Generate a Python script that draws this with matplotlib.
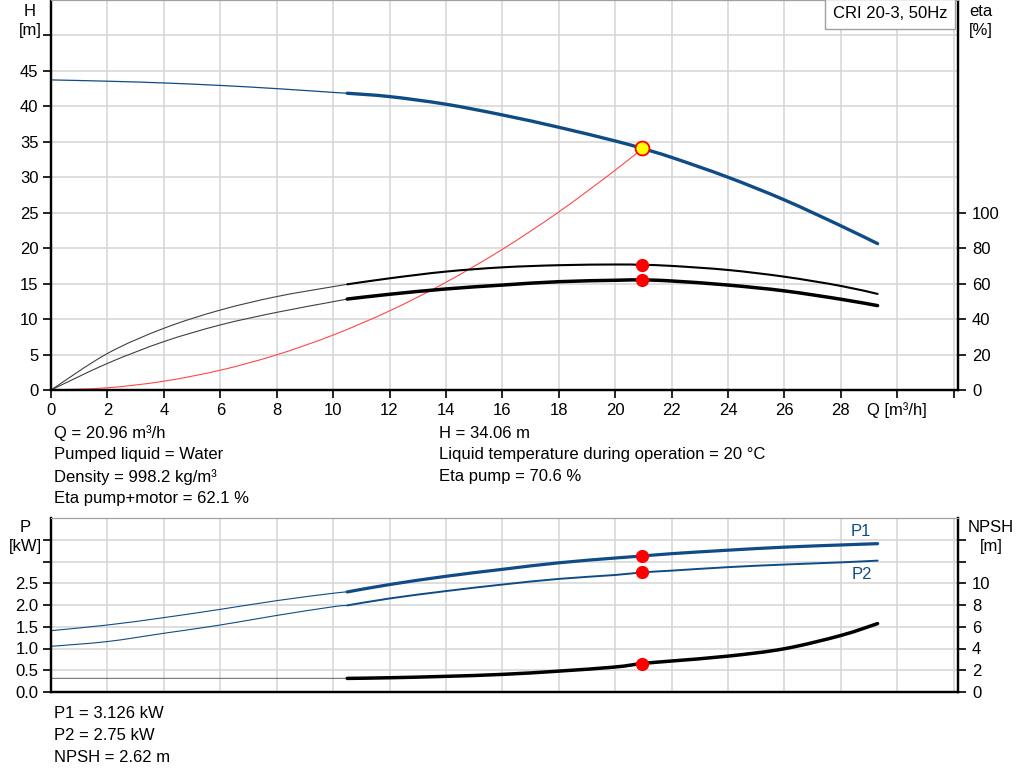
import numpy as np
import matplotlib
matplotlib.use("Agg")
import matplotlib.pyplot as plt
from matplotlib.path import Path
from matplotlib.patches import PathPatch

plt.rcParams['font.family'] = ['Liberation Sans', 'DejaVu Sans']
plt.rcParams['font.size'] = 12

# ---- data ----
# pump head H [m]
q_h_thin = [0, 2, 4, 6, 8, 10, 10.5]
h_thin = [43.73, 43.55, 43.3, 42.95, 42.5, 41.97, 41.85]
q_h = [10.5, 12, 14, 16, 18, 20, 20.96, 22, 24, 26, 28, 29.3]
h = [41.85, 41.38, 40.3, 38.79, 37.05, 35.12, 34.06, 32.8, 30.0, 26.8, 23.15, 20.64]

# system curve
q_sys = [0, 2, 4, 6, 8, 10, 12, 14, 16, 18, 20, 20.96]
h_sys = [0, 0.31, 1.24, 2.79, 4.96, 7.75, 11.16, 15.19, 19.84, 25.11, 31.0, 34.06]

# efficiencies [%]
q_eta_thin = [0, 2, 4, 6, 8, 10, 10.5]
eta_pump_thin = [0, 20.6, 34.8, 45.1, 52.7, 58.3, 59.6]
eta_tot_thin = [0, 15.0, 27.3, 36.7, 43.8, 49.8, 51.3]
q_eta = [10.5, 12, 14, 16, 18, 20, 20.96, 22, 24, 26, 28, 29.3]
eta_pump = [59.6, 63.0, 66.8, 69.2, 70.4, 70.8, 70.6, 70.0, 67.7, 63.9, 58.7, 54.2]
eta_tot = [51.3, 54.0, 57.0, 59.2, 61.1, 61.9, 62.1, 61.5, 59.2, 55.9, 51.2, 47.6]

# power [kW]
q_p_thin = [0, 2, 4, 6, 8, 10, 10.5]
p1_thin = [1.41, 1.54, 1.71, 1.90, 2.10, 2.27, 2.30]
p2_thin = [1.05, 1.16, 1.35, 1.54, 1.76, 1.96, 1.99]
q_p = [10.5, 12, 14, 16, 18, 20, 20.96, 22, 24, 26, 28, 29.3]
p1 = [2.30, 2.47, 2.66, 2.82, 2.97, 3.08, 3.126, 3.18, 3.26, 3.33, 3.38, 3.41]
p2 = [1.99, 2.15, 2.32, 2.47, 2.60, 2.69, 2.75, 2.79, 2.87, 2.93, 2.98, 3.02]

# NPSH [m]
q_npsh_thin = [0, 10.5]
npsh_thin = [1.25, 1.25]
q_npsh = [10.5, 12, 14, 16, 18, 20, 20.96, 22, 24, 26, 28, 29.3]
npsh = [1.25, 1.31, 1.44, 1.62, 1.92, 2.3, 2.62, 2.85, 3.3, 3.98, 5.2, 6.29]

# duty point
q_op = 20.96
h_op = 34.06
eta_pump_op = 70.6
eta_tot_op = 62.1
p1_op = 3.126
p2_op = 2.75
npsh_op = 2.62

blue = '#0f4c86'
grid_c = '#d4d4d4'


def smooth(a, xs, ys, **kw):
    # smooth curve through the read points (Catmull-Rom as cubic Bezier)
    pts = np.column_stack([xs, ys]).astype(float)
    n = len(pts)
    verts = [pts[0]]
    codes = [Path.MOVETO]
    for i in range(n - 1):
        p0 = pts[i - 1] if i > 0 else pts[i]
        p1_ = pts[i]
        p2_ = pts[i + 1]
        p3 = pts[i + 2] if i + 2 < n else pts[i + 1]
        c1 = p1_ + (p2_ - p0) / 6.0
        c2 = p2_ - (p3 - p1_) / 6.0
        verts += [c1, c2, p2_]
        codes += [Path.CURVE4] * 3
    patch = PathPatch(Path(verts, codes), fill=False, capstyle='round', **kw)
    a.add_patch(patch)
    return patch


fig = plt.figure(figsize=(10.24, 7.81), dpi=100)
ax = fig.add_axes([51/1024, 1 - 390/781, (958-51)/1024, 390/781])
ax2 = ax.twinx()
bx = fig.add_axes([51/1024, 1 - 692/781, (958-51)/1024, (692-518)/781])
bx2 = bx.twinx()

xmax = 32.15


def style(a, a2):
    a.set_xlim(0, xmax)
    a.set_xticks(np.arange(0, 33, 2))
    a.grid(True, color=grid_c, lw=1.1)
    a.set_axisbelow(True)
    for s in ['left', 'right', 'bottom']:
        a.spines[s].set_linewidth(1.6)
        a2.spines[s].set_linewidth(1.6)
    a.spines['top'].set_color('#a0a0a0')
    a2.spines['top'].set_color('#a0a0a0')
    a.tick_params(direction='out', length=6, width=1.2, pad=3)
    a2.tick_params(direction='out', length=6, width=1.2, pad=4)


# ---- top chart ----
style(ax, ax2)
ax.set_ylim(0, 55)
ax.set_yticks(np.arange(0, 51, 5))
ax.set_yticklabels([str(v) for v in range(0, 46, 5)] + [''])
xt = [str(v) for v in range(0, 29, 2)] + ['Q [m³/h]', '']
ax.set_xticklabels(xt)
ax2.set_ylim(0, 220)
ax2.set_yticks(np.arange(0, 101, 20))

smooth(ax, q_sys, h_sys, ec='#ff4848', lw=0.8, zorder=3)
smooth(ax, q_h_thin, h_thin, ec=blue, lw=0.9, zorder=4)
smooth(ax, q_h, h, ec=blue, lw=2.4, zorder=4)
ax.plot([q_op], [h_op], 'o', ms=10, mfc='#ffff00', mec='#ff0000', mew=1.3, zorder=6)

smooth(ax2, q_eta_thin, eta_pump_thin, ec='#404040', lw=0.8)
smooth(ax2, q_eta, eta_pump, ec='black', lw=1.5)
smooth(ax2, q_eta_thin, eta_tot_thin, ec='#404040', lw=0.8)
smooth(ax2, q_eta, eta_tot, ec='black', lw=2.5)
ax2.plot([q_op, q_op], [eta_pump_op, eta_tot_op], 'o', ms=8.5, color='#ff0000', zorder=6)

fig.text(30/1024, 1 - 11/781, 'H', ha='center', va='center')
fig.text(30/1024, 1 - 30/781, '[m]', ha='center', va='center')
fig.text(981/1024, 1 - 11/781, 'eta', ha='center', va='center')
fig.text(981/1024, 1 - 30/781, '[%]', ha='center', va='center')
fig.text(890/1024, 1 - 14/781, 'CRI 20-3, 50Hz', ha='center', va='center',
         bbox=dict(boxstyle='square,pad=0.45', fc='white', ec='#a0a0a0', lw=1))

# ---- info texts ----
left_txt = ['Q = 20.96 m³/h', 'Pumped liquid = Water', 'Density = 998.2 kg/m³',
            'Eta pump+motor = 62.1 %']
mid_txt = ['H = 34.06 m', 'Liquid temperature during operation = 20 °C',
           'Eta pump = 70.6 %']
bot_txt = ['P1 = 3.126 kW', 'P2 = 2.75 kW', 'NPSH = 2.62 m']
for i, t in enumerate(left_txt):
    fig.text(54/1024, 1 - (433.3 + 21.7*i)/781, t, ha='left', va='center')
for i, t in enumerate(mid_txt):
    fig.text(439/1024, 1 - (433.3 + 21.7*i)/781, t, ha='left', va='center')
for i, t in enumerate(bot_txt):
    fig.text(54/1024, 1 - (714 + 21.7*i)/781, t, ha='left', va='center')

# ---- bottom chart ----
style(bx, bx2)
bx.set_ylim(0, 4.0)
bx.set_yticks(np.arange(0, 3.6, 0.5))
bx.set_yticklabels(['0.0', '0.5', '1.0', '1.5', '2.0', '2.5', '', ''])
bx.tick_params(axis='x', length=0, labelbottom=False)
bx2.set_ylim(0, 16)
bx2.set_yticks(np.arange(0, 15, 2))
bx2.set_yticklabels(['0', '2', '4', '6', '8', '10', '', ''])

smooth(bx, q_p_thin, p1_thin, ec=blue, lw=0.8)
smooth(bx, q_p, p1, ec=blue, lw=2.3)
smooth(bx, q_p_thin, p2_thin, ec=blue, lw=0.8)
smooth(bx, q_p, p2, ec=blue, lw=1.4)
bx.plot([q_op, q_op], [p1_op, p2_op], 'o', ms=8.5, color='#ff0000', zorder=6)
smooth(bx2, q_npsh_thin, npsh_thin, ec='#808080', lw=0.9)
smooth(bx2, q_npsh, npsh, ec='black', lw=2.5)
bx2.plot([q_op], [npsh_op], 'o', ms=8.5, color='#ff0000', zorder=6)

bx.text(29.05, 3.70, 'P1', color=blue, ha='right', va='center')
bx.text(29.1, 2.69, 'P2', color=blue, ha='right', va='center')

fig.text(25/1024, 1 - 527/781, 'P', ha='center', va='center')
fig.text(25/1024, 1 - 547/781, '[kW]', ha='center', va='center')
fig.text(991/1024, 1 - 527/781, 'NPSH', ha='center', va='center')
fig.text(991/1024, 1 - 547/781, '[m]', ha='center', va='center')

fig.savefig('out.png', dpi=100)
